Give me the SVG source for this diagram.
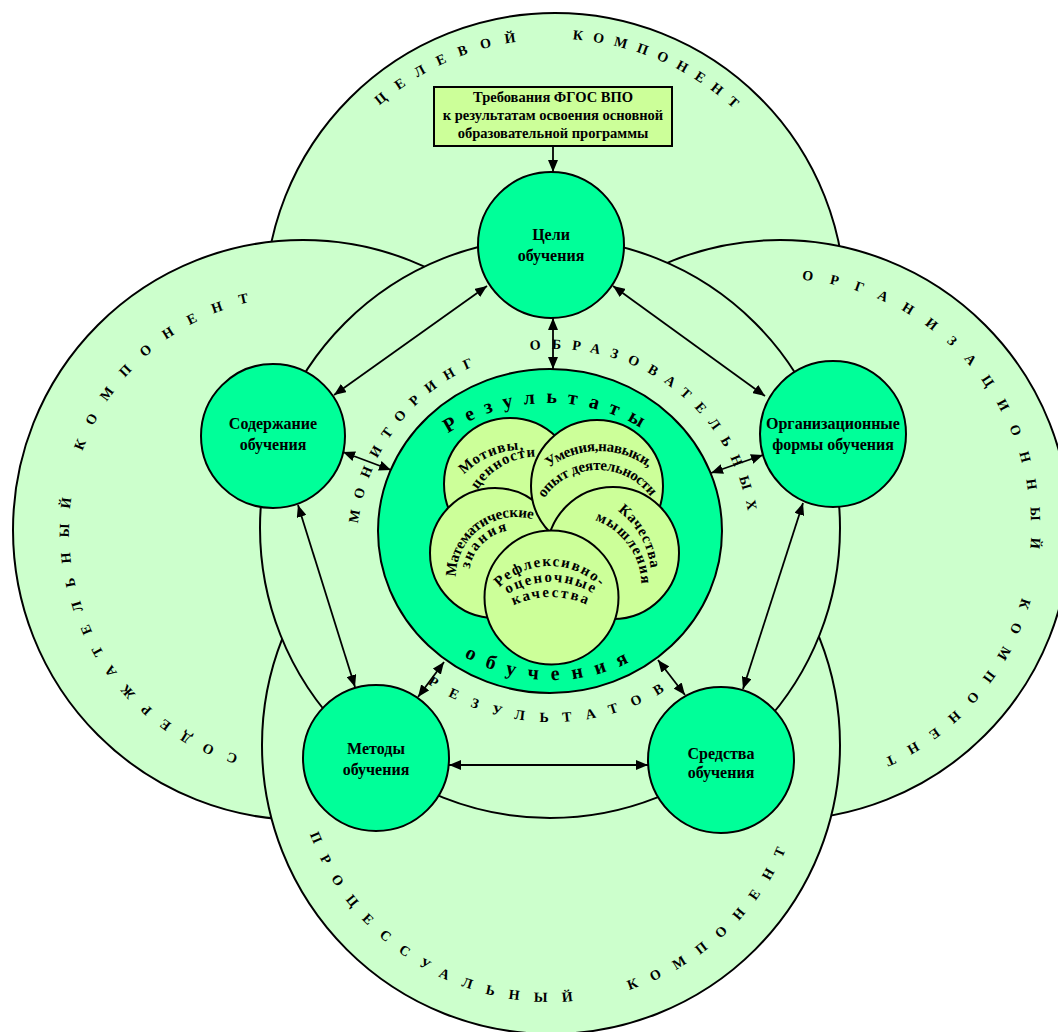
<svg xmlns="http://www.w3.org/2000/svg" width="1058" height="1032" viewBox="0 0 1058 1032">
<defs>
<style>
.big{fill:#CCFFCC;stroke:#000;stroke-width:2}
.node{fill:#00FF99;stroke:#000;stroke-width:2}
.inner{fill:#CCFF99;stroke:#000;stroke-width:2}
.t{font-family:"Liberation Serif","Times New Roman",serif;font-weight:bold;fill:#000}
.lbl{font-size:16px;text-anchor:middle}
.box{font-size:14.5px;text-anchor:middle}
.cap{font-size:14px;text-anchor:middle}
.res{font-size:20px;text-anchor:middle}
.sm{font-size:15px;text-anchor:middle}
.conn{stroke:#000;stroke-width:1.8;fill:none;marker-end:url(#ah)}
.dbl{marker-start:url(#ah)}
</style>
<marker id="ah" viewBox="0 0 12 10" refX="12" refY="5" markerWidth="12" markerHeight="10" markerUnits="userSpaceOnUse" orient="auto-start-reverse"><path d="M0,0 L12,5 L0,10 z" fill="#000"/></marker>
<path id="pTop1" d="M357.0,128.4 A264,264 0 0,1 561.4,39.1"/>
<path id="pTop2" d="M551.8,39.0 A264,264 0 0,1 755.1,130.8"/>
<path id="pLeft1" d="M267.6,761.3 A234,234 0 0,1 81.4,455.0"/>
<path id="pLeft2" d="M72.7,488.4 A234,234 0 0,1 304.0,296.0"/>
<path id="pRight1" d="M764.7,279.5 A251,251 0 0,1 1020.7,601.3"/>
<path id="pRight2" d="M1029.0,561.7 A251,251 0 0,1 835.4,774.8"/>
<path id="pBot1" d="M301.9,808.3 A257,257 0 0,0 614.3,994.1"/>
<path id="pBot2" d="M589.0,999.2 A257,257 0 0,0 802.8,796.2"/>
<path id="pMon" d="M357.1,553.4 A197,197 0 0,1 512.5,353.4"/>
<path id="pObr" d="M496.2,357.6 A197,197 0 0,1 750.7,556.1"/>
<path id="pRez" d="M397.6,658.3 A219,219 0 0,0 707.3,657.4"/>
<path id="pRes" d="M432,445.6 A182,182 0 0,1 666,445.6"/>
<path id="pObu" d="M439,638.9 A176,176 0 0,0 665.3,638.7"/>
<path id="pMot1" d="M454.2,487.3 A81,81 0 0,1 540,451.7"/>
<path id="pMot2" d="M472.6,499.9 A70,70 0 0,1 547.6,457.4"/>
<path id="pUm1" d="M536,480.5 A82,82 0 0,1 661.6,480.1"/>
<path id="pUm2" d="M538.6,508.5 A65,65 0 0,1 656.4,506.5"/>
<path id="pMat1" d="M456.4,584.3 A60,60 0 0,1 539.4,521.8"/>
<path id="pMat2" d="M469,576.6 A47,47 0 0,1 516.4,530"/>
<path id="pKa1" d="M609.4,505 A85,85 0 0,1 651.3,579"/>
<path id="pKa2" d="M588.7,518.3 A70,70 0 0,1 641.2,591.4"/>
<path id="pRf1" d="M492.7,595.8 A70,70 0 0,1 607.3,595.8"/>
<path id="pRf2" d="M502.8,597.2 A84,84 0 0,1 599.2,597.2"/>
<path id="pRf3" d="M507.5,608.7 A87,87 0 0,1 594.5,608.7"/>
</defs>
<rect width="1058" height="1032" fill="#fff"/>

<g id="components">
<circle class="big" cx="555" cy="303" r="290"/>
<circle class="big" cx="303" cy="530" r="290"/>
<circle class="big" cx="780" cy="530" r="290"/>
<circle class="big" cx="551" cy="745" r="289"/>
</g>
<g id="ring">
<circle class="big" cx="550" cy="528" r="290"/>
</g>

<g id="component-labels" class="t">
<text class="cap" letter-spacing="13.6"><textPath href="#pTop1" startOffset="50%">ЦЕЛЕВОЙ</textPath></text>
<text class="cap" letter-spacing="10.3"><textPath href="#pTop2" startOffset="50%">КОМПОНЕНТ</textPath></text>
<text class="cap" letter-spacing="14.6"><textPath href="#pLeft1" startOffset="50%">СОДЕРЖАТЕЛЬНЫЙ</textPath></text>
<text class="cap" letter-spacing="17"><textPath href="#pLeft2" startOffset="50%">КОМПОНЕНТ</textPath></text>
<text class="cap" letter-spacing="16.8"><textPath href="#pRight1" startOffset="50%">ОРГАНИЗАЦИОННЫЙ</textPath></text>
<text class="cap" letter-spacing="15.2"><textPath href="#pRight2" startOffset="50%">КОМПОНЕНТ</textPath></text>
<text class="cap" letter-spacing="14.7"><textPath href="#pBot1" startOffset="50%">ПРОЦЕССУАЛЬНЫЙ</textPath></text>
<text class="cap" letter-spacing="15"><textPath href="#pBot2" startOffset="50%">КОМПОНЕНТ</textPath></text>
<text class="cap" letter-spacing="11"><textPath href="#pMon" startOffset="50%">МОНИТОРИНГ</textPath></text>
<text class="cap" letter-spacing="10.9"><textPath href="#pObr" startOffset="50%">ОБРАЗОВАТЕЛЬНЫХ</textPath></text>
<text class="cap" letter-spacing="15.1"><textPath href="#pRez" startOffset="50%">РЕЗУЛЬТАТОВ</textPath></text>
</g>

<g id="node-requirements">
<rect x="434" y="87" width="238" height="59" fill="#CCFF99" stroke="#000" stroke-width="2"/>
<text class="t box" x="553" y="102">Требования ФГОС ВПО</text>
<text class="t box" x="553" y="120">к результатам освоения основной</text>
<text class="t box" x="553" y="138">образовательной программы</text>
</g>

<g id="node-goals">
<circle class="node" cx="551" cy="245" r="73"/>
<text class="t lbl" x="551" y="240">Цели</text>
<text class="t lbl" x="551" y="261">обучения</text>
</g>
<g id="node-content">
<circle class="node" cx="273" cy="436" r="72"/>
<text class="t lbl" x="273" y="429">Содержание</text>
<text class="t lbl" x="273" y="450">обучения</text>
</g>
<g id="node-forms">
<circle class="node" cx="833" cy="434" r="73"/>
<text class="t lbl" x="833" y="429">Организационные</text>
<text class="t lbl" x="833" y="450">формы обучения</text>
</g>
<g id="node-methods">
<circle class="node" cx="376" cy="758" r="73"/>
<text class="t lbl" x="376" y="754">Методы</text>
<text class="t lbl" x="376" y="775">обучения</text>
</g>
<g id="node-means">
<circle class="node" cx="721" cy="760" r="73"/>
<text class="t lbl" x="721" y="759">Средства</text>
<text class="t lbl" x="721" y="778">обучения</text>
</g>

<g id="node-results">
<ellipse class="node" cx="550" cy="531" rx="172" ry="162"/>
<text class="t res" letter-spacing="11"><textPath href="#pRes" startOffset="50%">Результаты</textPath></text>
<text class="t res" letter-spacing="12.6"><textPath href="#pObu" startOffset="50%">обучения</textPath></text>
<circle class="inner" cx="510" cy="484" r="66"/>
<circle class="inner" cx="495" cy="553" r="65"/>
<circle class="inner" cx="597" cy="486" r="66"/>
<circle class="inner" cx="613" cy="553" r="66"/>
<circle class="inner" cx="551.5" cy="597.5" r="67"/>
<g class="t sm">
<text letter-spacing="0.9"><textPath href="#pMot1" startOffset="50%">Мотивы,</textPath></text>
<text letter-spacing="0.9"><textPath href="#pMot2" startOffset="50%">ценности</textPath></text>
<text letter-spacing="-0.5"><textPath href="#pUm1" startOffset="50%">Умения,навыки,</textPath></text>
<text letter-spacing="-0.4"><textPath href="#pUm2" startOffset="50%">опыт деятельности</textPath></text>
<text letter-spacing="-0.3"><textPath href="#pMat1" startOffset="50%">Математические</textPath></text>
<text letter-spacing="1.8"><textPath href="#pMat2" startOffset="50%">знания</textPath></text>
<text letter-spacing="0.8"><textPath href="#pKa1" startOffset="50%">Качества</textPath></text>
<text letter-spacing="1.2"><textPath href="#pKa2" startOffset="50%">мышления</textPath></text>
<text letter-spacing="1.6"><textPath href="#pRf1" startOffset="50%">Рефлексивно-</textPath></text>
<text letter-spacing="1.9"><textPath href="#pRf2" startOffset="50%">оценочные</textPath></text>
<text letter-spacing="2.1"><textPath href="#pRf3" startOffset="50%">качества</textPath></text>
</g>
</g>

<g id="connectors">
<line class="conn" x1="553" y1="146" x2="553" y2="172"/>
<line class="conn dbl" x1="487" y1="286" x2="334" y2="395"/>
<line class="conn dbl" x1="613" y1="286" x2="765" y2="396"/>
<line class="conn dbl" x1="553" y1="318" x2="553" y2="369"/>
<line class="conn dbl" x1="298" y1="505" x2="355" y2="687"/>
<line class="conn dbl" x1="803" y1="503" x2="743" y2="689"/>
<line class="conn dbl" x1="449" y1="765" x2="648" y2="765"/>
<line class="conn dbl" x1="343" y1="452" x2="391" y2="470"/>
<line class="conn dbl" x1="711" y1="473" x2="763" y2="455"/>
<line class="conn dbl" x1="418" y1="697" x2="444" y2="662"/>
<line class="conn dbl" x1="658" y1="660" x2="685" y2="695"/>
</g>
</svg>
